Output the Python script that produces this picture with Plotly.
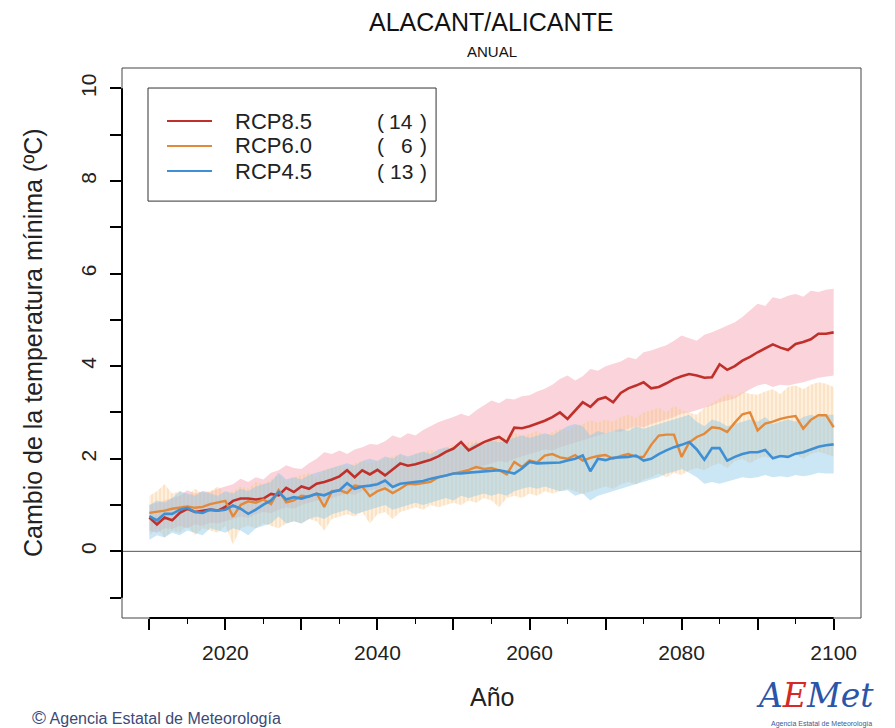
import plotly.graph_objects as go

years = list(range(2010, 2101))

rcp85_mean = [0.73, 0.58, 0.73, 0.67, 0.83, 0.92, 0.85, 0.88, 0.90, 0.88,
              0.96, 1.09, 1.14, 1.14, 1.12, 1.14, 1.24, 1.21, 1.37, 1.28,
              1.40, 1.35, 1.46, 1.50, 1.55, 1.62, 1.75, 1.60, 1.75, 1.66,
              1.76, 1.64, 1.78, 1.90, 1.85, 1.88, 1.93, 1.98, 2.05, 2.15,
              2.22, 2.36, 2.18, 2.27, 2.36, 2.42, 2.47, 2.36, 2.67, 2.66,
              2.70, 2.76, 2.82, 2.90, 3.00, 2.86, 3.04, 3.22, 3.12, 3.28,
              3.33, 3.22, 3.42, 3.52, 3.58, 3.65, 3.52, 3.55, 3.63, 3.72,
              3.78, 3.83, 3.80, 3.75, 3.76, 4.04, 3.92, 4.00, 4.12, 4.20,
              4.30, 4.38, 4.47, 4.40, 4.35, 4.48, 4.52, 4.58, 4.70, 4.70,
              4.73]
rcp85_hi = [1.00, 1.05, 1.10, 1.15, 1.20, 1.32, 1.25, 1.30, 1.28, 1.35,
            1.40, 1.45, 1.57, 1.50, 1.60, 1.55, 1.70, 1.75, 1.86, 1.80,
            1.78, 1.90, 2.00, 2.14, 2.10, 2.18, 2.10, 2.20, 2.25, 2.32,
            2.30, 2.38, 2.50, 2.45, 2.55, 2.50, 2.62, 2.70, 2.79, 2.85,
            2.90, 2.97, 2.92, 3.05, 3.15, 3.26, 3.20, 3.30, 3.28, 3.35,
            3.37, 3.45, 3.51, 3.60, 3.72, 3.80, 3.69, 3.78, 3.94, 3.90,
            4.00, 4.05, 4.10, 4.19, 4.15, 4.30, 4.34, 4.40, 4.45, 4.55,
            4.66, 4.60, 4.55, 4.68, 4.73, 4.80, 4.88, 4.95, 5.06, 5.20,
            5.35, 5.30, 5.49, 5.45, 5.52, 5.56, 5.50, 5.63, 5.60, 5.65,
            5.67]
rcp85_lo = [0.45, 0.40, 0.50, 0.48, 0.55, 0.50, 0.58, 0.55, 0.62, 0.60,
            0.65, 0.70, 0.75, 0.72, 0.80, 0.85, 0.82, 0.90, 0.95, 0.92,
            1.00, 1.05, 1.10, 1.08, 1.15, 1.20, 1.25, 1.22, 1.30, 1.32,
            1.35, 1.40, 1.38, 1.45, 1.50, 1.48, 1.55, 1.60, 1.62, 1.68,
            1.70, 1.75, 1.80, 1.78, 1.85, 1.90, 1.95, 1.92, 2.00, 2.05,
            2.10, 2.15, 2.20, 2.18, 2.25, 2.30, 2.35, 2.40, 2.45, 2.50,
            2.55, 2.60, 2.58, 2.65, 2.70, 2.68, 2.75, 2.80, 2.85, 2.90,
            2.97, 3.00, 3.05, 3.10, 3.15, 3.22, 3.26, 3.30, 3.40, 3.50,
            3.58, 3.62, 3.55, 3.60, 3.58, 3.62, 3.65, 3.70, 3.75, 3.78,
            3.80]

rcp60_mean = [0.83, 0.85, 0.88, 0.92, 0.94, 0.97, 0.94, 0.96, 1.02, 1.06,
              1.09, 0.75, 1.00, 1.08, 1.05, 1.12, 1.02, 1.32, 1.06, 1.10,
              1.20, 1.18, 1.25, 0.96, 1.30, 1.32, 1.26, 1.42, 1.40, 1.19,
              1.30, 1.36, 1.26, 1.35, 1.46, 1.45, 1.48, 1.50, 1.60, 1.64,
              1.68, 1.71, 1.76, 1.82, 1.78, 1.80, 1.75, 1.66, 1.93, 1.82,
              1.96, 1.92, 2.07, 2.10, 2.03, 2.00, 2.08, 1.96, 2.02, 2.06,
              2.08, 2.00, 2.06, 2.10, 2.04, 2.04, 2.30, 2.50, 2.52, 2.52,
              2.04, 2.35, 2.47, 2.54, 2.68, 2.66, 2.58, 2.78, 2.96, 3.00,
              2.61, 2.76, 2.80, 2.86, 2.90, 2.92, 2.65, 2.84, 2.94, 2.94,
              2.68]
rcp60_hi = [1.20, 1.30, 1.45, 1.25, 1.30, 1.20, 1.35, 1.25, 1.30, 1.40,
            1.25, 1.30, 1.40, 1.35, 1.50, 1.45, 1.55, 1.65, 1.50, 1.60,
            1.65, 1.70, 1.60, 1.75, 1.80, 1.85, 1.80, 1.90, 1.95, 1.90,
            1.95, 2.00, 2.05, 2.10, 2.00, 2.10, 2.15, 2.20, 2.15, 2.25,
            2.30, 2.28, 2.35, 2.40, 2.35, 2.45, 2.40, 2.50, 2.55, 2.50,
            2.54, 2.60, 2.50, 2.58, 2.65, 2.60, 2.70, 2.75, 2.83, 2.78,
            2.85, 2.80, 2.90, 2.95, 2.88, 3.00, 3.05, 3.10, 3.00, 3.15,
            3.05, 3.00, 2.95, 3.10, 3.20, 3.30, 3.40, 3.35, 3.45, 3.40,
            3.38, 3.45, 3.50, 3.40, 3.55, 3.58, 3.50, 3.60, 3.65, 3.62,
            3.55]
rcp60_lo = [0.35, 0.50, 0.30, 0.45, 0.40, 0.55, 0.35, 0.50, 0.45, 0.40,
            0.55, 0.15, 0.50, 0.55, 0.50, 0.60, 0.55, 0.50, 0.60, 0.65,
            0.60, 0.70, 0.65, 0.45, 0.70, 0.75, 0.80, 0.75, 0.85, 0.60,
            0.80, 0.85, 0.70, 0.85, 0.90, 0.95, 0.90, 1.00, 0.95, 1.00,
            1.05, 1.00, 1.10, 1.05, 1.15, 1.10, 0.95, 1.15, 1.20, 1.15,
            1.25, 1.20, 1.30, 1.25, 1.30, 1.35, 1.30, 1.24, 1.30, 1.35,
            1.40, 1.35, 1.45, 1.50, 1.45, 1.55, 1.60, 1.68, 1.60, 1.70,
            1.65, 1.75, 1.80, 1.75, 1.85, 1.90, 1.80, 1.95, 2.00, 1.90,
            2.00, 2.05, 2.00, 2.10, 2.05, 2.10, 2.00, 2.10, 2.15, 2.10,
            2.05]

rcp45_mean = [0.76, 0.67, 0.81, 0.81, 0.90, 0.94, 0.85, 0.83, 0.90, 0.88,
              0.90, 0.99, 0.92, 0.81, 0.90, 1.01, 1.10, 1.28, 1.12, 1.17,
              1.14, 1.19, 1.24, 1.21, 1.28, 1.32, 1.47, 1.35, 1.40, 1.42,
              1.45, 1.53, 1.39, 1.46, 1.48, 1.50, 1.52, 1.57, 1.60, 1.64,
              1.68, 1.68, 1.70, 1.71, 1.72, 1.74, 1.75, 1.72, 1.68, 1.79,
              1.93, 1.90, 1.91, 1.91, 1.92, 1.96, 2.00, 2.07, 1.73, 2.00,
              1.97, 2.02, 2.03, 2.04, 2.07, 1.96, 2.00, 2.10, 2.18, 2.25,
              2.30, 2.36, 2.20, 1.98, 2.23, 2.23, 1.96, 2.04, 2.10, 2.14,
              2.14, 2.19, 2.01, 2.06, 2.04, 2.11, 2.14, 2.20, 2.26, 2.29,
              2.31]
rcp45_hi = [1.00, 1.10, 1.05, 1.15, 1.30, 1.25, 1.20, 1.30, 1.25, 1.20,
            1.30, 1.25, 1.35, 1.30, 1.40, 1.45, 1.50, 1.70, 1.55, 1.60,
            1.55, 1.65, 1.70, 1.75, 1.80, 1.85, 1.90, 1.85, 1.95, 2.00,
            1.95, 2.05, 2.00, 2.10, 2.05, 2.10, 2.15, 2.10, 2.20, 2.25,
            2.20, 2.30, 2.25, 2.35, 2.30, 2.40, 2.35, 2.40, 2.45, 2.50,
            2.45, 2.50, 2.55, 2.50, 2.60, 2.70, 2.75, 2.70, 2.50, 2.60,
            2.55, 2.60, 2.65, 2.60, 2.70, 2.65, 2.70, 2.75, 2.80, 2.85,
            2.90, 2.95, 2.80, 2.70, 2.85, 2.80, 2.70, 2.75, 2.80, 2.85,
            2.80, 2.90, 2.75, 2.80, 2.85, 2.80, 2.90, 2.95, 2.90, 2.95,
            2.95]
rcp45_lo = [0.25, 0.35, 0.30, 0.40, 0.35, 0.45, 0.40, 0.35, 0.50, 0.45,
            0.40, 0.50, 0.45, 0.35, 0.50, 0.55, 0.60, 0.75, 0.60, 0.65,
            0.60, 0.70, 0.75, 0.70, 0.80, 0.85, 0.90, 0.80, 0.85, 0.90,
            0.95, 1.00, 0.90, 0.95, 1.00, 1.05, 1.00, 1.05, 1.10, 1.15,
            1.10, 1.20, 1.15, 1.20, 1.25, 1.20, 1.25, 1.20, 1.30, 1.35,
            1.39, 1.35, 1.40, 1.35, 1.30, 1.32, 1.20, 1.25, 1.10, 1.20,
            1.25, 1.30, 1.35, 1.39, 1.45, 1.50, 1.55, 1.60, 1.68, 1.72,
            1.78, 1.70, 1.60, 1.46, 1.50, 1.46, 1.50, 1.55, 1.60, 1.58,
            1.60, 1.65, 1.60, 1.62, 1.60, 1.65, 1.62, 1.65, 1.70, 1.68,
            1.68]

x_tick_vals = [2010, 2020, 2030, 2040, 2050, 2060, 2070, 2080, 2090, 2100]
x_tick_text = ["", "2020", "", "2040", "", "2060", "", "2080", "", "2100"]
x_minor_vals = [2015, 2025, 2035, 2045, 2055, 2065, 2075, 2085, 2095]
y_tick_vals = [-1, 0, 1, 2, 3, 4, 5, 6, 7, 8, 9, 10]
y_tick_text = ["", "0", "", "2", "", "4", "", "6", "", "8", "", "10"]

legend_names = ["RCP8.5", "RCP6.0", "RCP4.5"]
legend_counts = ["14", "6", "13"]

RED = "#c0302b"
ORANGE = "#e3893a"
BLUE = "#3f8fd4"

fig = go.Figure()


def band(lo, hi, **kw):
    fig.add_trace(go.Scatter(
        x=years + years[::-1], y=hi + lo[::-1], mode="lines",
        line=dict(width=0), fill="toself", hoverinfo="skip",
        showlegend=False, **kw))


band(rcp85_lo, rcp85_hi, fillcolor="rgba(244,150,170,0.42)")
band(rcp60_lo, rcp60_hi, fillcolor="rgba(250,200,140,0.40)",
     fillpattern=dict(shape="|", fgcolor="rgba(238,170,95,0.6)",
                      bgcolor="rgba(252,218,170,0.40)", size=4, solidity=0.3))
band(rcp45_lo, rcp45_hi, fillcolor="rgba(140,200,232,0.45)")

fig.add_trace(go.Scatter(x=years, y=rcp85_mean, mode="lines",
                         line=dict(color=RED, width=2.6), showlegend=False))
fig.add_trace(go.Scatter(x=years, y=rcp60_mean, mode="lines",
                         line=dict(color=ORANGE, width=2.4), showlegend=False))
fig.add_trace(go.Scatter(x=years, y=rcp45_mean, mode="lines",
                         line=dict(color=BLUE, width=2.6), showlegend=False))

FONT = "Liberation Sans, Arial, sans-serif"
TXT = "#222222"

shapes = [
    dict(type="rect", xref="paper", yref="paper", x0=0, x1=1, y0=0, y1=1,
         line=dict(color="#444444", width=1)),
    dict(type="line", xref="paper", yref="y", x0=0, x1=1, y0=0, y1=0,
         line=dict(color="#555555", width=1)),
    dict(type="line", xref="x", yref="paper", x0=2010, x1=2100, y0=0, y1=0,
         line=dict(color="black", width=2)),
    dict(type="line", xref="paper", yref="y", x0=0, x1=0, y0=-1, y1=10,
         line=dict(color="black", width=2)),
    dict(type="rect", xref="paper", yref="paper", x0=0.0352, x1=0.425,
         y0=0.758, y1=0.9636, line=dict(color="#333333", width=1),
         fillcolor="white"),
]

annotations = []
legend_rows = [0.9036, 0.8582, 0.8127]
for name, cnt, col, yy in zip(legend_names, legend_counts,
                              [RED, ORANGE, BLUE], legend_rows):
    shapes.append(dict(type="line", xref="paper", yref="paper",
                       x0=0.0609, x1=0.1218, y0=yy, y1=yy,
                       line=dict(color=col, width=2.2)))
    annotations.append(dict(xref="paper", yref="paper", x=0.150, y=yy,
                            text=name, showarrow=False, xanchor="left",
                            yanchor="middle",
                            font=dict(family=FONT, size=22, color=TXT)))
    annotations.append(dict(xref="paper", yref="paper", x=0.342, y=yy,
                            text="(", showarrow=False, xanchor="left",
                            yanchor="middle",
                            font=dict(family=FONT, size=21, color=TXT)))
    annotations.append(dict(xref="paper", yref="paper", x=0.3965, y=yy,
                            text=cnt, showarrow=False, xanchor="right",
                            yanchor="middle",
                            font=dict(family=FONT, size=21, color=TXT)))
    annotations.append(dict(xref="paper", yref="paper", x=0.400, y=yy,
                            text=")", showarrow=False, xanchor="left",
                            yanchor="middle",
                            font=dict(family=FONT, size=21, color=TXT)))

annotations += [
    dict(xref="paper", yref="paper", x=0.5, y=1.0836, text="ALACANT/ALICANTE",
         showarrow=False, xanchor="center", yanchor="middle",
         font=dict(family=FONT, size=25, color="#111111")),
    dict(xref="paper", yref="paper", x=0.5, y=1.0309, text="ANUAL",
         showarrow=False, xanchor="center", yanchor="middle",
         font=dict(family=FONT, size=15, color="#111111")),
    dict(xref="paper", yref="paper", x=0.5, y=-0.1436, text="Año",
         showarrow=False, xanchor="center", yanchor="middle",
         font=dict(family=FONT, size=25, color=TXT)),
    dict(xref="paper", yref="paper", x=-0.1204, y=0.5, textangle=-90,
         text="Cambio de la temperatura mínima (ºC)",
         showarrow=False, xanchor="center", yanchor="middle",
         font=dict(family=FONT, size=25, color=TXT)),
    dict(xref="paper", yref="paper", x=-0.1245, y=-0.18,
         text="<span style='font-size:19px'>©</span> Agencia Estatal de Meteorología",
         showarrow=False, xanchor="left", yanchor="middle",
         font=dict(family="Liberation Sans Narrow, Liberation Sans, sans-serif",
                   size=16, color="#3b4a78")),
    dict(xref="paper", yref="paper", x=0.9378, y=-0.14,
         text="<i><span style='color:#2a55a8'>A</span>"
              "<span style='color:#d42a25'>E</span>"
              "<span style='color:#2a55a8'>Met</span></i>",
         showarrow=False, xanchor="center", yanchor="middle",
         font=dict(family="DejaVu Serif, serif", size=33, color="#2a55a8")),
    dict(xref="paper", yref="paper", x=0.947, y=-0.192,
         text="Agencia Estatal de Meteorología",
         showarrow=False, xanchor="center", yanchor="middle",
         font=dict(family=FONT, size=7, color="#3b5a98")),
]

fig.update_layout(
    width=895, height=728,
    margin=dict(l=122, r=34, t=68, b=110),
    paper_bgcolor="white", plot_bgcolor="white",
    showlegend=False,
    shapes=shapes,
    annotations=annotations,
    xaxis=dict(range=[2006.4, 2103.6], showgrid=False, zeroline=False,
               showline=False, ticks="outside", ticklen=11, tickwidth=1.5,
               tickcolor="black", tickmode="array", tickvals=x_tick_vals,
               ticktext=x_tick_text, ticklabelstandoff=5,
               tickfont=dict(family=FONT, size=21, color=TXT),
               minor=dict(ticks="outside", ticklen=5, tickwidth=1.2,
                          tickcolor="black", tickmode="array",
                          tickvals=x_minor_vals, showgrid=False)),
    yaxis=dict(range=[-1.44, 10.44], showgrid=False, zeroline=False,
               showline=False, ticks="outside", ticklen=11, tickwidth=1.5,
               tickcolor="black", tickmode="array", tickvals=y_tick_vals,
               ticktext=y_tick_text, tickangle=-90, ticklabelstandoff=6,
               tickfont=dict(family=FONT, size=21, color=TXT)),
)

fig.write_html("out.html")
